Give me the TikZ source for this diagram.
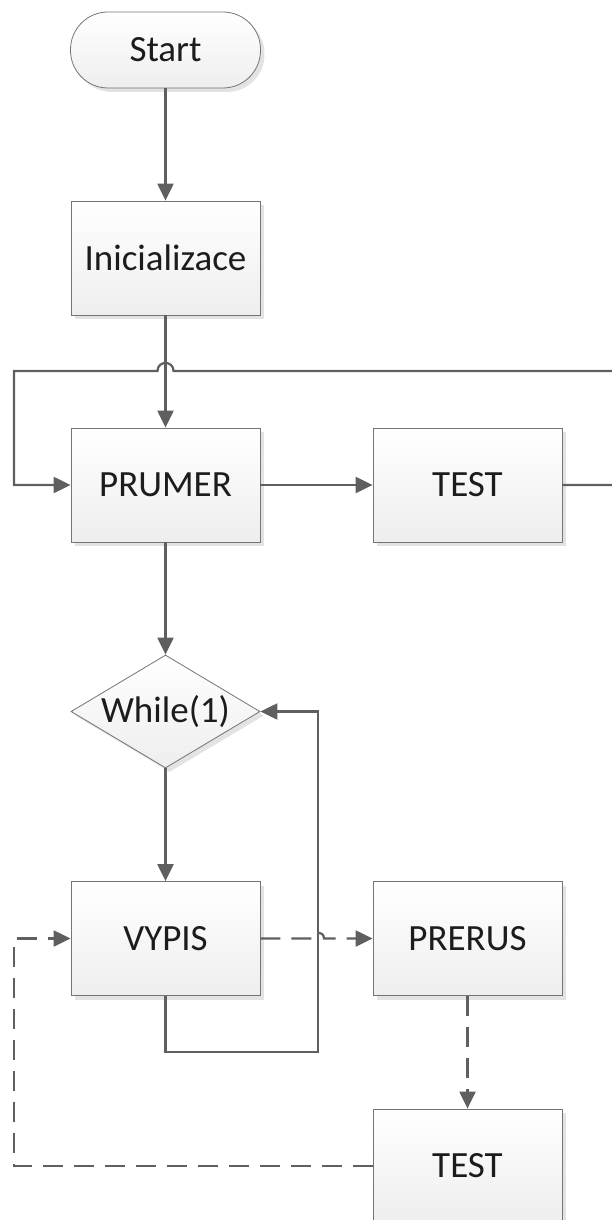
\documentclass[tikz,border=0pt]{standalone}
\usepackage{fontspec}
\setmainfont{Carlito}
\usetikzlibrary{arrows.meta,shapes.geometric,shadows}
\definecolor{ln}{HTML}{5F5F5F}
\definecolor{bd}{HTML}{747474}
\definecolor{sh}{HTML}{E3E3E3}
\definecolor{bt}{HTML}{EEEEEE}
\definecolor{txt}{HTML}{1C1C1C}
\begin{document}
\begin{tikzpicture}[x=1pt,y=-1pt,
  shp/.style={draw=bd, line width=0.8pt, top color=white, bottom color=bt,
    inner sep=0pt, text=txt, font=\fontsize{37}{44}\selectfont,
    drop shadow={shadow xshift=4pt, shadow yshift=-4pt, fill=sh, opacity=1}},
  box/.style={shp, rectangle, minimum width=189pt, minimum height=114pt},
  term/.style={shp, rectangle, rounded corners=37.5pt, minimum width=190pt, minimum height=76pt},
  dia/.style={shp, diamond, aspect=1.67, minimum width=189pt, minimum height=113pt},
  conn/.style={draw=ln, line width=2.2pt, -{Triangle[length=17pt,width=16pt]}},
  lineonly/.style={draw=ln, line width=2.2pt},
  dsh/.style={dash pattern=on 20pt off 11pt}]
\useasboundingbox (0,0) rectangle (611,1220);

\node[term] (start) at (165.5,50) {Start};
\node[box] (ini) at (165.5,258) {Inicializace};
\node[box] (prumer) at (165.5,485) {PRUMER};
\node[box] (test1) at (467.5,485) {TEST};
\node[dia, label={[font=\fontsize{37}{44}\selectfont, text=txt]center:While(1)}] (wh) at (165.5,711.5) {};
\node[box] (vypis) at (165.5,938.5) {VYPIS};
\node[box] (prerus) at (467.5,938.5) {PRERUS};
\node[box] (test2) at (467.5,1166) {TEST};

\draw[conn] (start) -- (ini);
\draw[conn] (ini) -- (prumer);
\draw[conn] (prumer) -- (test1);
\draw[conn] (test1.east) -- (614,485) -- (614,371) -- (173.5,371)
  .. controls (173.5,360.3) and (157.5,360.3) .. (157.5,371)
  -- (14,371) |- (prumer.west);
\draw[conn] (prumer) -- (wh);
\draw[conn] (wh) -- (vypis);
\draw[conn] (vypis.south) |- (318,1052) -- (318,711.5) -- (wh.east);

\draw[conn,dsh] (vypis.east) -- (312,938.5)
  .. controls (312,930.5) and (324,930.5) .. (324,938.5) -- (prerus.west);
\draw[conn,dsh] (prerus) -- (test2);
\draw[conn,dsh] (test2.west) -| (14,938.5) -- (vypis.west);
\end{tikzpicture}
\end{document}
